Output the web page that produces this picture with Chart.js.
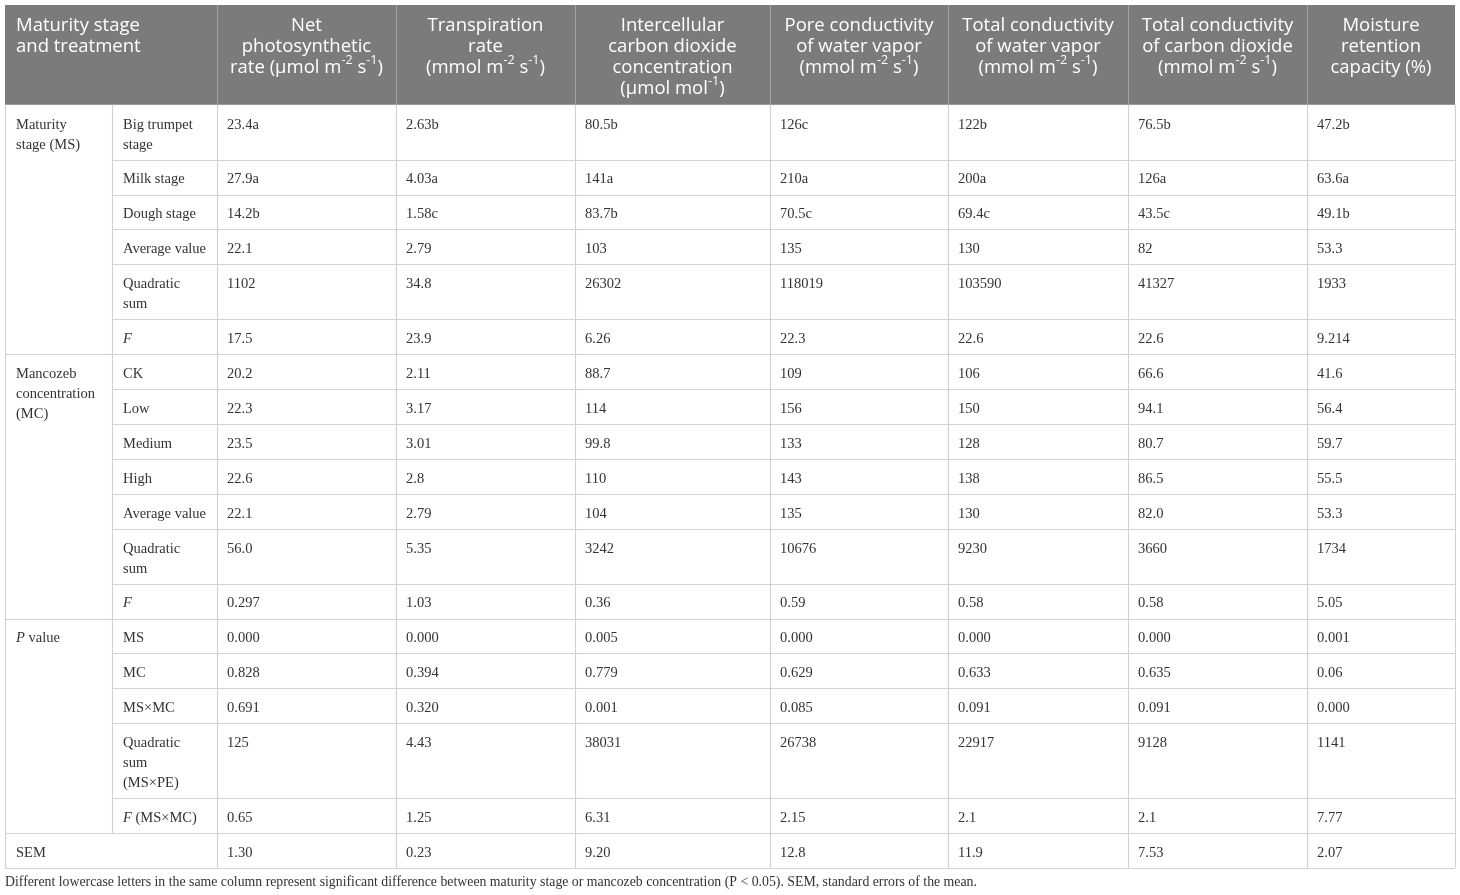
<!DOCTYPE html>
<html><head><meta charset="utf-8">
<script src="https://cdn.jsdelivr.net/npm/chart.js@4"></script>
<style>html,body{margin:0;padding:0;background:#fff}#wrap{width:1460px;height:895px;position:relative}</style>
</head><body><div id="wrap"><canvas id="c"></canvas></div>
<script>
// ---------- DATA ----------
const stubHeader = ["Maturity stage", "and treatment"];
const columnHeaders = [
  ["Net", "photosynthetic", "rate (μmol m^{-2} s^{-1})"],
  ["Transpiration", "rate", "(mmol m^{-2} s^{-1})"],
  ["Intercellular", "carbon dioxide", "concentration", "(μmol mol^{-1})"],
  ["Pore conductivity", "of water vapor", "(mmol m^{-2} s^{-1})"],
  ["Total conductivity", "of water vapor", "(mmol m^{-2} s^{-1})"],
  ["Total conductivity", "of carbon dioxide", "(mmol m^{-2} s^{-1})"],
  ["Moisture", "retention", "capacity (%)"]
];
const groupLabels = ["Maturity\nstage (MS)", "Mancozeb\nconcentration\n(MC)", "*P* value", "SEM"];
const groupRowCounts = [6, 7, 5, 1];
const rowLabels = [
  "Big trumpet\nstage", "Milk stage", "Dough stage", "Average value", "Quadratic\nsum", "*F*",
  "CK", "Low", "Medium", "High", "Average value", "Quadratic\nsum", "*F*",
  "MS", "MC", "MS×MC", "Quadratic\nsum\n(MS×PE)", "*F* (MS×MC)",
  ""
];
const netPhotosynthetic = ["23.4a","27.9a","14.2b","22.1","1102","17.5","20.2","22.3","23.5","22.6","22.1","56.0","0.297","0.000","0.828","0.691","125","0.65","1.30"];
const transpiration     = ["2.63b","4.03a","1.58c","2.79","34.8","23.9","2.11","3.17","3.01","2.8","2.79","5.35","1.03","0.000","0.394","0.320","4.43","1.25","0.23"];
const intercellularCO2  = ["80.5b","141a","83.7b","103","26302","6.26","88.7","114","99.8","110","104","3242","0.36","0.005","0.779","0.001","38031","6.31","9.20"];
const poreConductivity  = ["126c","210a","70.5c","135","118019","22.3","109","156","133","143","135","10676","0.59","0.000","0.629","0.085","26738","2.15","12.8"];
const totalWaterVapor   = ["122b","200a","69.4c","130","103590","22.6","106","150","128","138","130","9230","0.58","0.000","0.633","0.091","22917","2.1","11.9"];
const totalCO2          = ["76.5b","126a","43.5c","82","41327","22.6","66.6","94.1","80.7","86.5","82.0","3660","0.58","0.000","0.635","0.091","9128","2.1","7.53"];
const moistureRetention = ["47.2b","63.6a","49.1b","53.3","1933","9.214","41.6","56.4","59.7","55.5","53.3","1734","5.05","0.001","0.06","0.000","1141","7.77","2.07"];
const footnote = "Different lowercase letters in the same column represent significant difference between maturity stage or mancozeb concentration (P < 0.05). SEM, standard errors of the mean.";

const valueColumns = [netPhotosynthetic, transpiration, intercellularCO2, poreConductivity, totalWaterVapor, totalCO2, moistureRetention];

// ---------- LAYOUT ----------
const colWidths = [107, 105, 179, 179, 195, 178, 180, 179, 148];
const headerUnits = 100;
const rowUnits = rowLabels.map(l => 15 + 20 * Math.max(1, l.split("\n").length));
const colEdges = [0]; colWidths.forEach(w => colEdges.push(colEdges[colEdges.length - 1] + w));
const rowEdges = [0, headerUnits]; rowUnits.forEach(h => rowEdges.push(rowEdges[rowEdges.length - 1] + h));
const totalW = colEdges[colEdges.length - 1];
const totalH = rowEdges[rowEdges.length - 1];

const HEAD_FONT = '"Open Sans", sans-serif';
const BODY_FONT = '"Liberation Serif", "DejaVu Serif", serif';
const HEAD_SIZE = 18.5, BODY_SIZE = 14.5, NOTE_SIZE = 13.8;

function parseRich(s) {
  const segs = []; let i = 0, it = false, buf = '';
  const flush = () => { if (buf) { segs.push({ t: buf, it, sup: false }); buf = ''; } };
  while (i < s.length) {
    const ch = s[i];
    if (ch === '*') { flush(); it = !it; i++; continue; }
    if (ch === '^' && s[i + 1] === '{') { flush(); const j = s.indexOf('}', i); segs.push({ t: s.slice(i + 2, j), it, sup: true }); i = j + 1; continue; }
    buf += ch; i++;
  }
  flush();
  return segs;
}
function drawRich(ctx, s, x, y, align, family, size, color) {
  const segs = parseRich(s);
  const fontFor = sg => `${sg.it ? 'italic ' : ''}${sg.sup ? (size * 0.68).toFixed(1) : size}px ${family}`;
  let w = 0;
  segs.forEach(sg => { ctx.font = fontFor(sg); sg.w = ctx.measureText(sg.t).width; w += sg.w; });
  let cx = align === 'center' ? x - w / 2 : x;
  ctx.fillStyle = color; ctx.textBaseline = 'middle'; ctx.textAlign = 'left';
  segs.forEach(sg => { ctx.font = fontFor(sg); ctx.fillText(sg.t, cx, sg.sup ? y - size * 0.36 : y); cx += sg.w; });
}

const tablePlugin = {
  id: 'tablePlugin',
  afterDraw(chart) {
    const ctx = chart.ctx;
    const xs = chart.scales.x, ys = chart.scales.y;
    const X = v => xs.getPixelForValue(v);
    const Y = v => ys.getPixelForValue(v);
    const line = (x1, y1, x2, y2, color, w) => {
      ctx.save(); ctx.strokeStyle = color; ctx.lineWidth = w || 1;
      ctx.beginPath(); ctx.moveTo(x1, y1); ctx.lineTo(x2, y2); ctx.stroke(); ctx.restore();
    };
    ctx.save();
    // header background
    ctx.fillStyle = '#7b7b7b';
    ctx.fillRect(X(0), Y(0), X(totalW) - X(0), Y(headerUnits) - Y(0));
    // header separators
    for (let c = 2; c < colEdges.length - 1; c++) {
      line(Math.round(X(colEdges[c])) + 0.5, Y(0), Math.round(X(colEdges[c])) + 0.5, Y(headerUnits), '#a0a0a0', 1);
    }
    // header texts
    const hLine = 21;
    stubHeader.forEach((t, i) => drawRich(ctx, t, X(colEdges[0]) + 11, Y(0) + 20.5 + i * hLine, 'left', HEAD_FONT, HEAD_SIZE, '#ffffff'));
    columnHeaders.forEach((lines, c) => {
      const cx = (X(colEdges[c + 2]) + X(colEdges[c + 3])) / 2;
      lines.forEach((t, i) => drawRich(ctx, t, cx, Y(0) + 20.5 + i * hLine, 'center', HEAD_FONT, HEAD_SIZE, '#ffffff'));
    });

    const gridColor = '#d2d2d2';
    const bodyColor = '#333333';
    const nRows = rowLabels.length;
    let r0 = 0;
    const groupStart = []; groupRowCounts.forEach(n => { groupStart.push(r0); r0 += n; });
    // horizontal lines
    for (let r = 0; r < nRows; r++) {
      const yb = Math.round(Y(rowEdges[r + 2])) + 0.5;
      const isGroupEnd = groupStart.some((s, g) => s + groupRowCounts[g] - 1 === r);
      line(X(isGroupEnd ? colEdges[0] : colEdges[1]), yb, X(totalW), yb, gridColor, 1.2);
    }
    // vertical lines
    const yTop = Y(headerUnits), yBot = Y(totalH);
    [0, 2, 3, 4, 5, 6, 7, 8, 9].forEach(c => {
      const xv = Math.round(X(colEdges[c])) + 0.5;
      line(xv, yTop, xv, yBot, gridColor, 1.2);
    });
    // column-1 separator stops above the SEM row, which spans two columns
    {
      const xv = Math.round(X(colEdges[1])) + 0.5;
      line(xv, yTop, xv, Y(rowEdges[nRows]), gridColor, 1.2);
    }
    // group labels
    groupLabels.forEach((lab, g) => {
      const top = rowEdges[groupStart[g] + 1];
      lab.split("\n").forEach((t, i) => drawRich(ctx, t, X(colEdges[0]) + 11, Y(top) + 20 + i * 20, 'left', BODY_FONT, BODY_SIZE, bodyColor));
    });
    // row labels and values
    for (let r = 0; r < nRows; r++) {
      const top = Y(rowEdges[r + 1]);
      rowLabels[r].split("\n").forEach((t, i) => { if (t) drawRich(ctx, t, X(colEdges[1]) + 11, top + 20 + i * 20, 'left', BODY_FONT, BODY_SIZE, bodyColor); });
      valueColumns.forEach((col, c) => drawRich(ctx, col[r], X(colEdges[c + 2]) + 10, top + 20, 'left', BODY_FONT, BODY_SIZE, bodyColor));
    }
    // footnote
    drawRich(ctx, footnote, X(0), Y(totalH) + 14, 'left', BODY_FONT, NOTE_SIZE, bodyColor);
    ctx.restore();
  }
};

new Chart(document.getElementById('c'), {
  type: 'scatter',
  data: { datasets: [{ data: [], pointRadius: 0 }] },
  options: {
    responsive: true, maintainAspectRatio: false, animation: false, events: [],
    layout: { padding: { left: 5, right: 5, top: 5, bottom: 27 } },
    plugins: { legend: { display: false }, tooltip: { enabled: false }, title: { display: false } },
    scales: {
      x: { type: 'linear', min: 0, max: totalW, display: false },
      y: { type: 'linear', min: 0, max: totalH, reverse: true, display: false }
    }
  },
  plugins: [tablePlugin]
});
</script>
</body></html>
